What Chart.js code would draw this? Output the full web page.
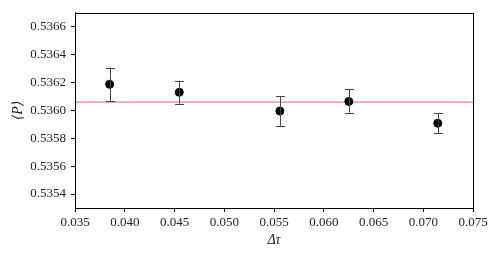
<!DOCTYPE html>
<html>
<head>
<meta charset="utf-8">
<script src="https://cdn.jsdelivr.net/npm/chart.js@4/dist/chart.umd.min.js"></script>
<style>
  html, body { margin: 0; padding: 0; background: #fff; }
  #wrap { width: 499px; height: 257px; }
</style>
</head>
<body>
<div id="wrap"><canvas id="chartP" width="499" height="257"></canvas></div>
<script>
// data
const dtau = [0.03848, 0.04548, 0.05559, 0.06252, 0.07146];
const meanP = [0.536187, 0.536130, 0.535995, 0.536064, 0.535908];
const errLow = [0.536064, 0.536048, 0.535889, 0.535984, 0.535835];
const errHigh = [0.536307, 0.536213, 0.536101, 0.536151, 0.535981];
const refLine = 0.536060;
const xTicks = [0.035, 0.040, 0.045, 0.050, 0.055, 0.060, 0.065, 0.070, 0.075];
const yTicks = [0.5354, 0.5356, 0.5358, 0.5360, 0.5362, 0.5364, 0.5366];

const FONT = "'Liberation Serif', 'DejaVu Serif', serif";

// error bars + frame
const errorBars = {
    id: 'errorBars',
    afterDatasetsDraw(chart) {
        const ctx = chart.ctx;
        const xs = chart.scales.x, ys = chart.scales.y;
        ctx.save();
        ctx.strokeStyle = '#444';
        ctx.lineWidth = 1;
        for (let i = 0; i < dtau.length; i++) {
            const px = Math.round(xs.getPixelForValue(dtau[i])) + 0.5;
            const y1 = ys.getPixelForValue(errLow[i]);
            const y2 = ys.getPixelForValue(errHigh[i]);
            ctx.beginPath();
            ctx.moveTo(px, y1); ctx.lineTo(px, y2);
            ctx.moveTo(px - 4.5, Math.round(y1) + 0.5); ctx.lineTo(px + 4.5, Math.round(y1) + 0.5);
            ctx.moveTo(px - 4.5, Math.round(y2) + 0.5); ctx.lineTo(px + 4.5, Math.round(y2) + 0.5);
            ctx.stroke();
        }
        ctx.restore();
    },
    afterDraw(chart) {
        const a = chart.chartArea, ctx = chart.ctx;
        ctx.save();
        ctx.strokeStyle = '#000';
        ctx.lineWidth = 1;
        ctx.strokeRect(Math.round(a.left) + 0.5, Math.round(a.top) + 0.5,
            Math.round(a.right - a.left), Math.round(a.bottom - a.top));
        ctx.restore();
    }
};

const ctx = document.getElementById('chartP').getContext('2d');
new Chart(ctx, {
    type: 'scatter',
    data: {
        datasets: [
            {
                type: 'line',
                data: [{ x: xTicks[0], y: refLine }, { x: xTicks[xTicks.length - 1], y: refLine }],
                borderColor: 'rgba(235,90,90,0.75)',
                borderWidth: 1.3,
                pointRadius: 0,
                order: 2
            },
            {
                data: dtau.map((x, i) => ({ x: x, y: meanP[i] })),
                backgroundColor: '#000',
                borderColor: '#000',
                pointRadius: 4,
                order: 1
            }
        ]
    },
    plugins: [errorBars],
    options: {
        responsive: false,
        animation: false,
        events: [],
        layout: { padding: { left: 0, right: 26, top: 11, bottom: 0 } },
        plugins: { legend: { display: false }, tooltip: { enabled: false } },
        scales: {
            x: {
                type: 'linear',
                min: 0.035, max: 0.075,
                afterBuildTicks: s => { s.ticks = xTicks.map(v => ({ value: v })); },
                afterFit: s => { s.height = 49; },
                grid: { drawOnChartArea: false, drawTicks: true, tickLength: 4, color: '#000' },
                border: { display: true, color: '#000' },
                ticks: {
                    color: '#222', padding: 3, maxRotation: 0,
                    font: { family: FONT, size: 13 },
                    callback: v => v.toFixed(3)
                },
                title: {
                    display: true, text: 'Δτ', color: '#222',
                    font: { family: FONT, size: 14, style: 'italic' }, padding: { top: 0, bottom: 8 }
                }
            },
            y: {
                type: 'linear',
                min: 0.53530, max: 0.53670,
                afterBuildTicks: s => { s.ticks = yTicks.map(v => ({ value: v })); },
                afterFit: s => { s.width = 75; },
                grid: { drawOnChartArea: false, drawTicks: true, tickLength: 4, color: '#000' },
                border: { display: true, color: '#000' },
                ticks: {
                    color: '#222', padding: 5,
                    font: { family: FONT, size: 13 },
                    callback: v => v.toFixed(4)
                },
                title: {
                    display: true, text: '⟨P⟩', color: '#222',
                    font: { family: FONT, size: 14, style: 'italic' }, padding: { top: 10, bottom: 0 }
                }
            }
        }
    }
});
</script>
</body>
</html>
